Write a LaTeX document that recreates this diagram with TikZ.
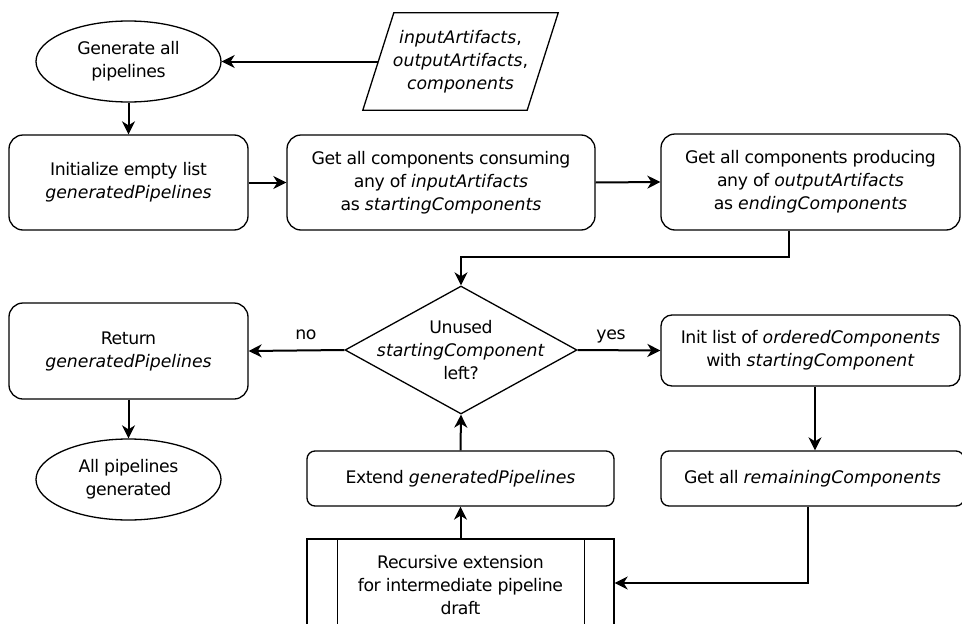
\documentclass[tikz,border=0pt]{standalone}
\usepackage{fontspec}
\setmainfont{DejaVu Sans}[UprightFeatures={LetterSpace=-2.5}]
\usetikzlibrary{shapes.geometric,arrows.meta,calc}
\begin{document}
\begin{tikzpicture}[x=1pt,y=-1pt,
  every node/.style={font=\fontsize{17.3}{23}\selectfont, align=center, inner sep=0pt},
  box/.style={draw, line width=1.3pt, rectangle, rounded corners=#1},
  box/.default=14pt,
  term/.style={draw, line width=1.3pt, ellipse, minimum width=185pt, minimum height=81pt},
  outline/.style={line width=1.3pt},
  arr/.style={line width=2pt, -{Stealth[length=13pt,width=13pt,inset=4pt]}}]

\useasboundingbox (0,0) rectangle (962,624);
\fill[white] (0,0) rectangle (962,624);

% start terminal and input data
\node[term] (start) at (128.5,61.5) {Generate all\\pipelines};
\node[minimum width=164pt, minimum height=97pt] (inp) at (460.5,61.5)
  {\textit{inputArtifacts},\\\textit{outputArtifacts},\\\textit{components}};
\draw[outline] ($(inp.north west)+(15.5,0)$) -- ($(inp.north east)+(15.5,0)$)
  -- ($(inp.south east)+(-15.5,0)$) -- ($(inp.south west)+(-15.5,0)$) -- cycle;

% preparation steps
\node[box, minimum width=239pt, minimum height=95pt] (init) at (128.5,182.5)
  {Initialize empty list\\\textit{generatedPipelines}};
\node[box, minimum width=308pt, minimum height=95pt] (consume) at (441,182.5)
  {Get all components consuming\\any of \textit{inputArtifacts}\\as \textit{startingComponents}};
\node[box, minimum width=299pt, minimum height=96pt] (produce) at (810.5,182)
  {Get all components producing\\any of \textit{outputArtifacts}\\as \textit{endingComponents}};

% loop decision
\node[diamond, draw, line width=1.3pt, minimum width=232pt, minimum height=128pt,
  label={[align=center]center:Unused\\\textit{startingComponent}\\left?}] (decide) at (461,350) {};

% exit branch
\node[box, minimum width=239pt, minimum height=96pt] (ret) at (128.5,351)
  {Return\\\textit{generatedPipelines}};
\node[term] (finish) at (128.5,479.5) {All pipelines\\generated};

% loop body
\node[box=11pt, minimum width=299pt, minimum height=71pt] (seed) at (810.5,350.5)
  {Init list of \textit{orderedComponents}\\with \textit{startingComponent}};
\node[box=8pt, minimum width=303pt, minimum height=55pt] (remain) at (812.5,478.5)
  {Get all \textit{remainingComponents}};
\node[box=8pt, minimum width=307pt, minimum height=55pt] (extend) at (460.5,478.5)
  {Extend \textit{generatedPipelines}};
% predefined-process box, running past the lower edge
\node[draw, line width=1.3pt, minimum width=307pt, minimum height=93pt] (recur) at (460.5,585.5)
  {Recursive extension\\for intermediate pipeline\\draft};
\draw[outline] ([xshift=31pt]recur.north west) -- ([xshift=31pt]recur.south west);
\draw[outline] ([xshift=-30pt]recur.north east) -- ([xshift=-30pt]recur.south east);

% branch labels
\node (nolbl) at (306,335) {no};
\node (yeslbl) at (611,336) {yes};

% connectors
\coordinate (j1) at (789,257);
\coordinate (j2) at (808,583);
\coordinate (j3) at (815,0);
\draw[arr] (inp.west) -- (start.east);
\draw[arr] (start.south) -- (init.north);
\draw[arr] (init.east) -- (consume.west);
\draw[arr] (consume.east) -- (produce.west);
\draw[arr] (produce.south -| j1) -- (j1) -| (decide.north);
\draw[arr] (decide.west) -- (ret.east);
\draw[arr] (decide.east) -- (seed.west);
\draw[arr] (ret.south) -- (finish.north);
\draw[arr] (seed.south -| j3) -- (remain.north -| j3);
\draw[arr] (remain.south -| j2) -- (j2) -- (recur.east |- j2);
\draw[arr] (recur.north) -- (extend.south);
\draw[arr] (extend.north) -- (decide.south);
\end{tikzpicture}
\end{document}
